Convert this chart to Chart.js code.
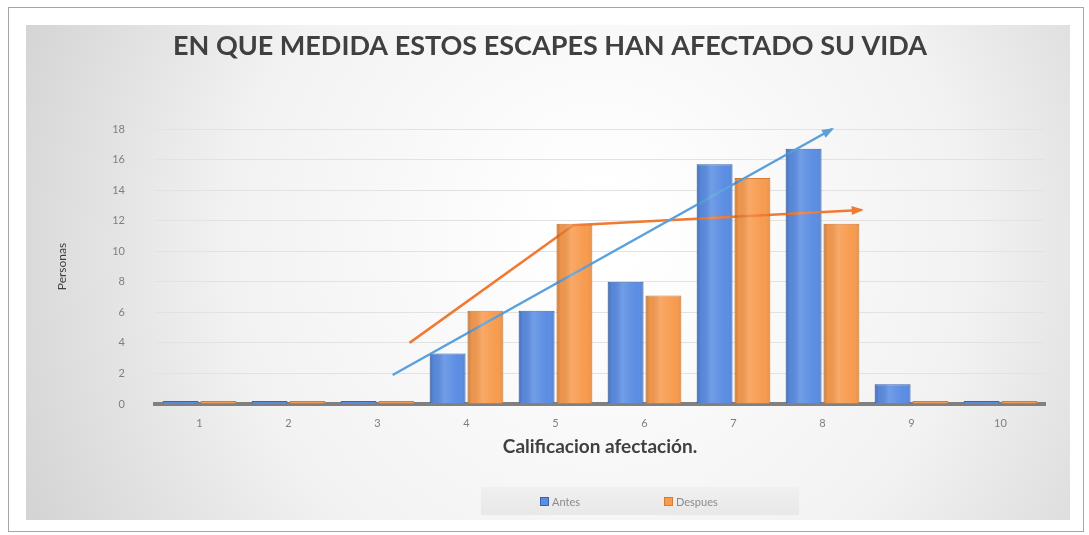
<!DOCTYPE html>
<html><head><meta charset="utf-8">
<script src="https://cdn.jsdelivr.net/npm/chart.js@4.4.1/dist/chart.umd.min.js"></script>
<style>html,body{margin:0;padding:0;background:#fff;overflow:hidden}canvas{display:block}</style>
</head><body>
<canvas id="c" width="1089" height="535"></canvas>
<script>
// ---- data ----
const categories = ['1','2','3','4','5','6','7','8','9','10'];
const seriesNames = ['Antes','Despues'];
const antes   = [0,0,0,3.3,6.1,8.0,15.7,16.7,1.3,0];
const despues = [0,0,0,6.1,11.8,7.1,14.8,11.8,0,0];
const yTickValues = [0,2,4,6,8,10,12,14,16,18];
// trend lines (x in category units, 1..10)
const trendAntesX   = [3.17, 8.11];
const trendAntesY   = [1.9, 18.0];
const trendDespuesX = [3.36, 5.2, 8.44];
const trendDespuesY = [4.0, 11.7, 12.7];

const titleText = 'EN QUE MEDIDA ESTOS ESCAPES HAN AFECTADO SU VIDA';
const xTitle = 'Calificacion afectación.';
const yTitle = 'Personas';

const BLUE = '#5b8de3', BLUE_B = '#3a62ab';
const ORANGE = '#f79b4f', ORANGE_B = '#d97b2f';
const TBLUE = '#5aa0dc', TORANGE = '#ef7a34';
const FONT = 'Lato, "Liberation Sans", sans-serif';

const toPts = (xs, ys) => xs.map((x, i) => ({x, y: ys[i]}));
const catPts = vals => vals.map((v, i) => ({x: i + 1, y: v}));

const bgPlugin = {
  id: 'bg',
  beforeDraw(chart) {
    const c = chart.ctx;
    c.save();
    c.fillStyle = '#ffffff';
    c.fillRect(0, 0, chart.width, chart.height);
    const g = c.createRadialGradient(600, 230, 40, 600, 260, 640);
    g.addColorStop(0, '#ffffff');
    g.addColorStop(0.55, '#f2f2f2');
    g.addColorStop(1, '#d2d2d2');
    c.fillStyle = g;
    c.fillRect(26, 25, 1044, 495);
    c.strokeStyle = '#a6a6a6';
    c.lineWidth = 1;
    c.strokeRect(8.5, 7.5, 1075, 524);
    c.restore();
  }
};

// subtle 3D-like shading on top of the library's bar elements
const shadePlugin = {
  id: 'shade',
  afterDatasetsDraw(chart) {
    const c = chart.ctx;
    chart.data.datasets.forEach((d, i) => {
      if (d.type === 'line') return;
      chart.getDatasetMeta(i).data.forEach(el => {
        const l = el.x - el.width / 2, r = el.x + el.width / 2;
        const top = Math.min(el.y, el.base), bot = Math.max(el.y, el.base);
        if (bot - top < 4) return;
        const g = c.createLinearGradient(l, 0, r, 0);
        g.addColorStop(0, 'rgba(0,0,0,0.20)');
        g.addColorStop(0.12, 'rgba(0,0,0,0.04)');
        g.addColorStop(0.4, 'rgba(255,255,255,0.14)');
        g.addColorStop(0.8, 'rgba(255,255,255,0)');
        g.addColorStop(1, 'rgba(0,0,0,0.08)');
        c.save();
        c.fillStyle = g;
        c.fillRect(l + 0.5, top + 0.5, r - l - 1, bot - top - 1);
        c.restore();
      });
    });
  }
};

const legendPlugin = {
  id: 'customLegend',
  afterDraw(chart) {
    const c = chart.ctx;
    c.save();
    const g = c.createLinearGradient(0, 487, 0, 515);
    g.addColorStop(0, '#f0f0f0'); g.addColorStop(1, '#e8e8e8');
    c.fillStyle = g;
    c.fillRect(481, 487, 318, 28);
    c.font = '11px ' + FONT;
    c.textBaseline = 'middle';
    const ds = chart.data.datasets.filter(d => d.type !== 'line');
    const starts = [540, 664];
    ds.forEach((d, i) => {
      const x = starts[i];
      c.fillStyle = d.backgroundColor;
      c.fillRect(x, 497, 9, 9);
      c.strokeStyle = d.borderColor; c.lineWidth = 1;
      c.strokeRect(x + 0.5, 497.5, 8, 8);
      c.fillStyle = '#8a8a8a';
      c.fillText(d.label, x + 12, 502);
    });
    c.restore();
  }
};

const arrowPlugin = {
  id: 'arrows',
  afterDatasetsDraw(chart) {
    const c = chart.ctx;
    chart.data.datasets.forEach((d, i) => {
      if (d.type !== 'line') return;
      const pts = chart.getDatasetMeta(i).data;
      const a = pts[pts.length - 2], b = pts[pts.length - 1];
      const ang = Math.atan2(b.y - a.y, b.x - a.x);
      const L = 10, W = 4.5;
      c.save();
      c.fillStyle = d.borderColor;
      c.translate(b.x, b.y); c.rotate(ang);
      c.beginPath();
      c.moveTo(2, 0); c.lineTo(-L, -W); c.lineTo(-L, W); c.closePath();
      c.fill();
      c.restore();
    });
  }
};

new Chart(document.getElementById('c'), {
  type: 'bar',
  data: {
    datasets: [
      { label: seriesNames[0], data: catPts(antes), backgroundColor: BLUE, borderColor: BLUE_B, borderWidth: 1,
        barPercentage: 0.95, categoryPercentage: 0.85, minBarLength: 3, order: 2 },
      { label: seriesNames[1], data: catPts(despues), backgroundColor: ORANGE, borderColor: ORANGE_B, borderWidth: 1,
        barPercentage: 0.95, categoryPercentage: 0.85, minBarLength: 3, order: 2 },
      { type: 'line', label: 'Tendencia Antes', data: toPts(trendAntesX, trendAntesY),
        borderColor: TBLUE, borderWidth: 2.5, pointRadius: 0, fill: false, clip: false, order: 1 },
      { type: 'line', label: 'Tendencia Despues', data: toPts(trendDespuesX, trendDespuesY),
        borderColor: TORANGE, borderWidth: 2.5, pointRadius: 0, fill: false, clip: false, order: 1 }
    ]
  },
  options: {
    responsive: false,
    animation: false,
    layout: { padding: { left: 55, right: 44, top: 0, bottom: 75 } },
    plugins: {
      legend: { display: false },
      tooltip: { enabled: false },
      title: {
        display: true, text: titleText, color: '#404040',
        font: { family: FONT, size: 27, weight: 'bold', lineHeight: 1.2 },
        padding: { top: 29.8, bottom: 66.8 }
      }
    },
    scales: {
      x: {
        type: 'linear', min: 0.5, max: 10.5, offset: false,
        afterBuildTicks: s => { s.ticks = categories.map((c, i) => ({ value: i + 1 })); },
        grid: { display: false, drawTicks: false, offset: false },
        border: { display: true, color: '#808080', width: 4 },
        ticks: { color: '#7f7f7f', padding: 13, autoSkip: false, maxRotation: 0,
          callback: v => categories[v - 1],
          font: { family: FONT, size: 11 } },
        title: { display: true, text: xTitle, color: '#404040', padding: { top: 0, bottom: 2 },
          font: { family: FONT, size: 19, weight: 'bold', lineHeight: 1.2 } },
        afterFit: s => { s.height = 56; }
      },
      y: {
        min: 0, max: 18,
        afterBuildTicks: s => { s.ticks = yTickValues.map(v => ({ value: v })); },
        grid: { color: '#e2e2e2', lineWidth: 1, drawTicks: false },
        border: { display: false },
        ticks: { color: '#7f7f7f', padding: 30, font: { family: FONT, size: 11 } },
        title: { display: true, text: yTitle, color: '#404040', padding: { top: 0, bottom: 0 },
          font: { family: FONT, size: 12, lineHeight: 1.2 } },
        afterFit: s => { s.width = 100; }
      }
    }
  },
  plugins: [bgPlugin, shadePlugin, legendPlugin, arrowPlugin]
});
</script>
</body></html>
